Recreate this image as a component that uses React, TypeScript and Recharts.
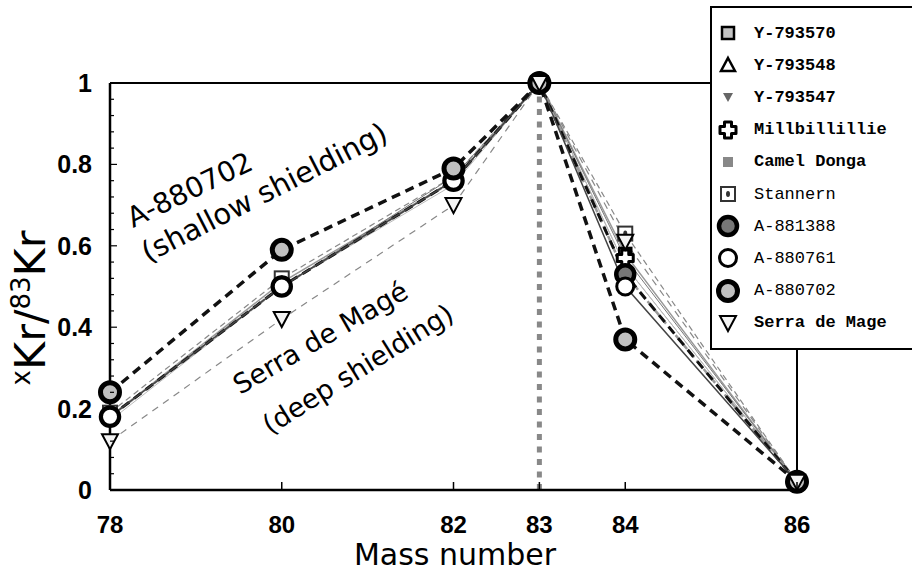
import React from "react"
import {
  LineChart,
  Line,
  XAxis,
  YAxis,
  Legend,
  ReferenceLine,
  Customized,
} from "recharts"

const massNumbers = [78, 80, 82, 83, 84, 86]

const y793570 = [0.18, 0.51, 0.76, 1, 0.58, 0.02]
const y793548 = [0.18, 0.5, 0.76, 1, 0.55, 0.02]
const y793547 = [0.17, 0.5, 0.75, 1, 0.55, 0.02]
const millbillillie = [0.18, 0.5, 0.77, 1, 0.57, 0.02]
const camelDonga = [0.18, 0.5, 0.76, 1, 0.53, 0.02]
const stannern = [0.19, 0.52, 0.77, 1, 0.63, 0.02]
const a881388 = [0.18, 0.5, 0.76, 1, 0.53, 0.02]
const a880761 = [0.18, 0.5, 0.76, 1, 0.5, 0.02]
const a880702 = [0.24, 0.59, 0.79, 1, 0.37, 0.02]
const serraDeMage = [0.12, 0.42, 0.7, 1, 0.61, 0.02]

const xTicks = [78, 80, 82, 83, 84, 86]
const yTicks = [
  0, 0.04, 0.08, 0.12, 0.16, 0.2, 0.24, 0.28, 0.32, 0.36, 0.4, 0.44, 0.48, 0.52, 0.56, 0.6,
  0.64, 0.68, 0.72, 0.76, 0.8, 0.84, 0.88, 0.92, 0.96, 1,
]

const data = massNumbers.map((m, i) => ({
  mass: m,
  y793570: y793570[i],
  y793548: y793548[i],
  y793547: y793547[i],
  millbillillie: millbillillie[i],
  camelDonga: camelDonga[i],
  stannern: stannern[i],
  a881388: a881388[i],
  a880761: a880761[i],
  a880702: a880702[i],
  serraDeMage: serraDeMage[i],
}))

type Kind =
  | "graySquare"
  | "triUp"
  | "smallTriDown"
  | "cross"
  | "smallSquare"
  | "dotSquare"
  | "darkCircle"
  | "whiteCircle"
  | "lightCircle"
  | "triDown"

function Marker({ kind, cx, cy }: { kind: Kind; cx: number; cy: number }) {
  switch (kind) {
    case "graySquare":
      return <rect x={cx - 6} y={cy - 6} width={12} height={12} fill="#c4c4c4" stroke="#000" strokeWidth={2.5} />
    case "triUp":
      return (
        <polygon
          points={`${cx},${cy - 7} ${cx + 7},${cy + 6} ${cx - 7},${cy + 6}`}
          fill="#fff"
          stroke="#000"
          strokeWidth={2.5}
        />
      )
    case "smallTriDown":
      return <polygon points={`${cx - 5},${cy - 4} ${cx + 5},${cy - 4} ${cx},${cy + 5}`} fill="#666" />
    case "cross": {
      const a = 3.5
      const b = 8
      const pts = [
        [-a, -b], [a, -b], [a, -a], [b, -a], [b, a], [a, a],
        [a, b], [-a, b], [-a, a], [-b, a], [-b, -a], [-a, -a],
      ]
      return (
        <polygon
          points={pts.map(([px, py]) => `${cx + px},${cy + py}`).join(" ")}
          fill="#fff"
          stroke="#000"
          strokeWidth={3}
          strokeLinejoin="round"
        />
      )
    }
    case "smallSquare":
      return <rect x={cx - 5} y={cy - 5} width={10} height={10} fill="#888" />
    case "dotSquare":
      return (
        <g>
          <rect x={cx - 7} y={cy - 7} width={14} height={14} fill="#fff" stroke="#333" strokeWidth={2} />
          <ellipse cx={cx} cy={cy} rx={2} ry={3} fill="#333" />
        </g>
      )
    case "darkCircle":
      return <circle cx={cx} cy={cy} r={9} fill="#777" stroke="#000" strokeWidth={4.5} />
    case "whiteCircle":
      return <circle cx={cx} cy={cy} r={8.5} fill="#fff" stroke="#000" strokeWidth={3} />
    case "lightCircle":
      return <circle cx={cx} cy={cy} r={9.5} fill="#c0c0c0" stroke="#000" strokeWidth={5} />
    case "triDown":
      return (
        <polygon
          points={`${cx - 8},${cy - 7} ${cx + 8},${cy - 7} ${cx},${cy + 8}`}
          fill="#f4f4f4"
          stroke="#000"
          strokeWidth={2}
        />
      )
  }
  return null
}

const seriesList: {
  key: string
  name: string
  kind: Kind
  stroke: string
  width: number
  dash?: string
  bold: boolean
}[] = [
  { key: "y793570", name: "Y-793570", kind: "graySquare", stroke: "#999", width: 1.5, bold: true },
  { key: "y793548", name: "Y-793548", kind: "triUp", stroke: "#aaa", width: 1, bold: true },
  { key: "y793547", name: "Y-793547", kind: "smallTriDown", stroke: "#bbb", width: 1, bold: true },
  { key: "millbillillie", name: "Millbillillie", kind: "cross", stroke: "#777", width: 1, bold: true },
  { key: "camelDonga", name: "Camel Donga", kind: "smallSquare", stroke: "#999", width: 2.5, dash: "7 4", bold: true },
  { key: "stannern", name: "Stannern", kind: "dotSquare", stroke: "#888", width: 1.2, dash: "6 4", bold: false },
  { key: "a881388", name: "A-881388", kind: "darkCircle", stroke: "#111", width: 3, dash: "9 6", bold: false },
  { key: "a880761", name: "A-880761", kind: "whiteCircle", stroke: "#444", width: 1.5, bold: false },
  { key: "a880702", name: "A-880702", kind: "lightCircle", stroke: "#111", width: 3.5, dash: "9 6", bold: false },
  { key: "serraDeMage", name: "Serra de Mage", kind: "triDown", stroke: "#888", width: 1.2, dash: "7 6", bold: true },
]

const isMajor = (v: number) => Math.abs(v * 5 - Math.round(v * 5)) < 1e-6
const fmtY = (v: number) => (v === 0 ? "0" : v === 1 ? "1" : v.toFixed(1))

function YTick(props: any) {
  const { x, y, payload } = props
  const v = payload.value as number
  const major = isMajor(v)
  return (
    <g>
      <line x1={x} x2={x + (major ? 7 : 4)} y1={y} y2={y} stroke="#000" strokeWidth={1.2} />
      {major && (
        <text
          x={x - 18}
          y={y + 9}
          textAnchor="end"
          fontFamily="Liberation Sans, Arial, sans-serif"
          fontWeight="bold"
          fontSize={25}
          fill="#000"
        >
          {fmtY(v)}
        </text>
      )}
    </g>
  )
}

function XTick(props: any) {
  const { x, y, payload } = props
  return (
    <g>
      <line x1={x} x2={x} y1={y} y2={y - 8} stroke="#000" strokeWidth={1.5} />
      <text
        x={x}
        y={y + 43}
        textAnchor="middle"
        fontFamily="Liberation Sans, Arial, sans-serif"
        fontWeight="bold"
        fontSize={24}
        fill="#000"
      >
        {payload.value}
      </text>
    </g>
  )
}

function LegendBox() {
  return (
    <div
      style={{
        width: 210,
        height: 344,
        border: "2px solid #000",
        background: "#fff",
        boxSizing: "border-box",
        paddingTop: 9,
      }}
    >
      {seriesList.map((s) => (
        <div key={s.key} style={{ display: "flex", alignItems: "center", height: 32.2 }}>
          <svg width={40} height={24} style={{ flex: "none" }}>
            <Marker kind={s.kind} cx={16} cy={12} />
          </svg>
          <span
            style={{
              fontFamily: "Liberation Mono, DejaVu Sans Mono, monospace",
              fontWeight: s.bold ? "bold" : "normal",
              fontSize: 17,
              color: "#000",
              marginLeft: 2,
            }}
          >
            {s.name}
          </span>
        </div>
      ))}
    </div>
  )
}

function Annotations() {
  const font = "DejaVu Sans, Verdana, sans-serif"
  return (
    <g fill="#000" fontFamily={font}>
      <text x={133} y={228} fontSize={28} transform="rotate(-26 133 228)">A-880702</text>
      <text x={148} y={263} fontSize={29} transform="rotate(-27 148 263)">(shallow shielding)</text>
      <text x={240} y={395} fontSize={27} transform="rotate(-30 240 395)">Serra de Magé</text>
      <text x={270} y={435} fontSize={27} transform="rotate(-32 270 435)">(deep shielding)</text>
      <text x={455} y={565} fontSize={30} textAnchor="middle">Mass number</text>
      <text x={45} y={308} textAnchor="middle" transform="rotate(-90 45 308)">
        <tspan fontSize={26} dy={-15}>x</tspan>
        <tspan fontSize={43} dy={15}>Kr/</tspan>
        <tspan fontSize={26} dy={-15}>83</tspan>
        <tspan fontSize={43} dy={15}>Kr</tspan>
      </text>
    </g>
  )
}

export default function App() {
  return (
    <div style={{ position: "absolute", left: 0, top: 0, width: 912, height: 575, overflow: "hidden", background: "#fff" }}>
      <LineChart
        width={912}
        height={575}
        data={data}
        margin={{ top: 83, right: 115, bottom: 35, left: 50 }}
      >
        <XAxis
          dataKey="mass"
          type="number"
          domain={[78, 86]}
          ticks={xTicks}
          interval={0}
          height={50}
          tickSize={0}
          tickMargin={0}
          tickLine={false}
          axisLine={{ stroke: "#000", strokeWidth: 2.5 }}
          tick={<XTick />}
        />
        <YAxis
          type="number"
          domain={[0, 1]}
          ticks={yTicks}
          interval={0}
          width={60}
          tickSize={0}
          tickMargin={0}
          tickLine={false}
          axisLine={{ stroke: "#000", strokeWidth: 2.5 }}
          tick={<YTick />}
        />
        <ReferenceLine y={1} stroke="#000" strokeWidth={2} ifOverflow="extendDomain" />
        <ReferenceLine x={86} stroke="#000" strokeWidth={2} />
        <ReferenceLine x={83} stroke="#888" strokeWidth={5} strokeDasharray="6 6.5" />
        {seriesList.map((s) => (
          <Line
            key={s.key}
            dataKey={s.key}
            name={s.name}
            type="linear"
            stroke={s.stroke}
            strokeWidth={s.width}
            strokeDasharray={s.dash}
            isAnimationActive={false}
            activeDot={false}
            dot={(p: any) => <Marker key={`${s.key}-${p.index}`} kind={s.kind} cx={p.cx} cy={p.cy} />}
          />
        ))}
        <Customized component={<Annotations />} />
        <Legend
          layout="vertical"
          align="center"
          verticalAlign="middle"
          wrapperStyle={{ left: 710, top: 6, width: 210 }}
          content={<LegendBox />}
        />
      </LineChart>
    </div>
  )
}
